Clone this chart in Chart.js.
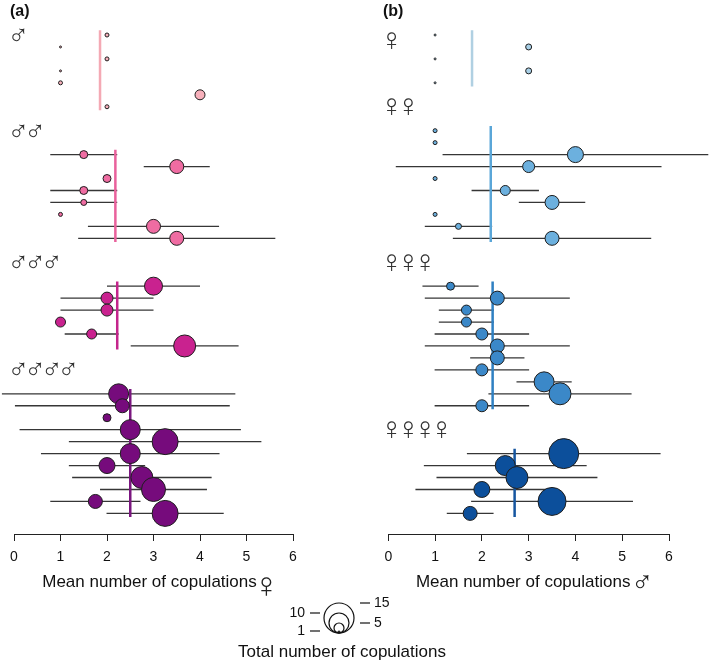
<!DOCTYPE html>
<html><head><meta charset="utf-8">
<script src="https://cdn.jsdelivr.net/npm/chart.js@4"></script>
<style>
html,body{margin:0;padding:0;background:#fff;}
#wrap{position:relative;width:709px;height:663px;}
canvas{position:absolute;left:0;top:0;}
</style></head><body>
<div id="wrap"><canvas id="ca" width="709" height="663"></canvas><canvas id="cb" width="709" height="663"></canvas></div>
<script>
// ---------------- DATA ----------------
const xTickValues = [0, 1, 2, 3, 4, 5, 6];

// Panel (a): mean number of copulations per female, groups by number of males
const aGroupNames = ['♂', '♂♂', '♂♂♂', '♂♂♂♂'];
const aGroupLabelRow = [0, 8, 19, 27.9];
const aGroupMean = [1.85, 2.18, 2.22, 2.5];
const aRows = [[0,1,2,3,4,5,6],[10,11,12,13,14,15,16,17],[21,22,23,24,25,26],[30,31,32,33,34,35,36,37,38,39,40]];
const aMean = [[2,1,2,1,1,4,2],[1.5,3.5,2,1.5,1.5,1,3,3.5],[3,2,2,1,1.67,3.67],[2.25,2.33,2,2.5,3.25,2.5,2,2.75,3,1.75,3.25]];
const aLow = [[null,null,null,null,null,null,null],[0.78,2.79,null,0.78,0.78,null,1.59,1.38],[2,1,1,null,1.09,2.51],[-0.26,0.02,null,0.12,1.18,0.58,1.18,1.25,1.85,0.78,1.99]];
const aHigh = [[null,null,null,null,null,null,null],[2.22,4.21,null,2.22,2.22,null,4.41,5.62],[4,3,3,null,2.25,4.83],[4.76,4.64,null,4.88,5.32,4.42,2.82,4.25,4.15,2.72,4.51]];
const aTotal = [[2,1,2,1,2,5,2],[4,7,4,4,3,2,7,7],[9,6,6,5,5,11],[10,7,4,10,13,10,8,11,12,7,13]];

// Panel (b): mean number of copulations per male, groups by number of females
const bGroupNames = ['♀', '♀♀', '♀♀♀', '♀♀♀♀'];
const bGroupLabelRow = [0.5, 6, 19, 33];
const bGroupMean = [1.79, 2.19, 2.23, 2.7];
const bRows = [[0,1,2,3,4],[8,9,10,11,12,13,14,15,16,17],[21,22,23,24,25,26,27,28,29,30,31],[35,36,37,38,39,40]];
const bMean = [[1,3,1,3,1],[1,1,4,3,1,2.5,3.5,1,1.5,3.5],[1.33,2.33,1.67,1.67,2,2.33,2.33,2,3.33,3.67,2],[3.75,2.5,2.75,2,3.5,1.75]];
const bLow = [[null,null,null,null,null],[null,null,1.16,0.16,null,1.78,2.79,null,0.78,1.38],[0.73,0.78,1.08,1.08,0.99,0.78,1.75,0.99,2.74,2.14,0.99],[1.68,0.76,1.03,0.58,1.77,1.25]];
const bHigh = [[null,null,null,null,null],[null,null,6.84,5.84,null,3.22,4.21,null,2.22,5.62],[1.93,3.88,2.26,2.26,3.01,3.88,2.91,3.01,3.92,5.2,3.01],[5.82,4.24,4.47,3.42,5.23,2.25]];
const bTotal = [[1,3,1,3,1],[2,2,8,6,2,5,7,2,3,7],[4,7,5,5,6,7,7,6,10,11,6],[15,10,11,8,14,7]];

// Size legend
const legendValues = [1, 5, 10, 15];
const legendSides = ['left', 'right', 'left', 'right'];

// ---------------- STYLE ----------------
const RADIUS_PER = 1.0;
const ROW0_PX = 35, ROW_PX = 11.96;
const FONT = '"Liberation Sans", Arial, sans-serif';
const SYMFONT = '"Liberation Sans", "DejaVu Sans", sans-serif';
const SYM_H = {'♂': 13, '♀': 17};
const aFill = ['#f7b0bb', '#ef6ca2', '#c9228f', '#760b7c'];
const aLine = ['#f4a9b4', '#e9619c', '#c4258c', '#7a167f'];
const bFill = ['#a8cfe6', '#6cb0de', '#3b88c8', '#0c4f9b'];
const bLine = ['#b0d0e2', '#5aa6d8', '#2f80c2', '#1656a0'];

function radiusOf(t) { return t * RADIUS_PER; }

// draw a sex symbol scaled to a given ink height; anchor: ink centre (cx) and ink centre or top (y)
function drawSymbol(ctx, ch, cx, y, targetH, anchorTop) {
  ctx.font = '100px ' + SYMFONT;
  let m = ctx.measureText(ch);
  const size = 100 * targetH / (m.actualBoundingBoxAscent + m.actualBoundingBoxDescent);
  ctx.font = size.toFixed(2) + 'px ' + SYMFONT;
  m = ctx.measureText(ch);
  ctx.textAlign = 'left';
  ctx.textBaseline = 'alphabetic';
  const x = cx - (m.actualBoundingBoxRight - m.actualBoundingBoxLeft) / 2;
  const base = anchorTop ? y + m.actualBoundingBoxAscent
                         : y + (m.actualBoundingBoxAscent - m.actualBoundingBoxDescent) / 2;
  ctx.fillText(ch, x, base);
  return m.actualBoundingBoxRight + m.actualBoundingBoxLeft;
}

function makePanel(canvasId, cfg) {
  const datasets = [];
  cfg.rows.forEach((rows, g) => {
    datasets.push({
      type: 'line',
      data: [{x: cfg.groupMean[g], y: rows[0] - 0.4}, {x: cfg.groupMean[g], y: rows[rows.length - 1] + 0.3}],
      borderColor: cfg.lineColors[g], borderWidth: 2.5, pointRadius: 0, order: 2, clip: false
    });
  });
  cfg.rows.forEach((rows, g) => {
    datasets.push({
      type: 'bubble',
      data: rows.map((r, i) => ({x: cfg.mean[g][i], y: r, r: radiusOf(cfg.total[g][i])})),
      backgroundColor: cfg.fillColors[g], borderColor: '#1e1e1e', borderWidth: 1, order: 1, clip: false
    });
  });

  const plugin = {
    id: 'panel' + canvasId,
    beforeDatasetsDraw(chart) {
      const ctx = chart.ctx, xs = chart.scales.x, ys = chart.scales.y;
      ctx.save();
      ctx.strokeStyle = '#363636';
      ctx.lineWidth = 1.3;
      cfg.rows.forEach((rows, g) => rows.forEach((r, i) => {
        const lo = cfg.low[g][i], hi = cfg.high[g][i];
        if (lo == null || hi == null) return;
        const y = ys.getPixelForValue(r);
        ctx.beginPath();
        ctx.moveTo(xs.getPixelForValue(lo), y);
        ctx.lineTo(xs.getPixelForValue(hi), y);
        ctx.stroke();
      }));
      ctx.restore();
    },
    afterDraw(chart) {
      const ctx = chart.ctx, ys = chart.scales.y, xs = chart.scales.x;
      ctx.save();
      ctx.fillStyle = '#333';
      // group labels
      cfg.groupNames.forEach((name, g) => {
        const yc = ys.getPixelForValue(cfg.labelRow[g]);
        [...name].forEach((ch, k) => {
          drawSymbol(ctx, ch, cfg.labelX + k * 16.7, yc, SYM_H[ch], false);
        });
      });
      // axis title (text + enlarged symbol)
      ctx.font = '17px ' + FONT;
      const tw = ctx.measureText(cfg.title).width;
      const symW = cfg.titleSym === '♀' ? 10 : 13;
      const total = tw + 5 + symW;
      const centre = (xs.getPixelForValue(0) + xs.getPixelForValue(6)) / 2 + 3.5;
      const x0 = centre - total / 2;
      ctx.fillStyle = '#111';
      ctx.textAlign = 'left';
      ctx.textBaseline = 'alphabetic';
      ctx.fillText(cfg.title, x0, 587);
      ctx.fillStyle = '#222';
      if (cfg.titleSym === '♀') drawSymbol(ctx, '♀', x0 + tw + 5 + symW / 2, 577, 19, true);
      else drawSymbol(ctx, '♂', x0 + tw + 5 + symW / 2, 575, 13.5, true);
      // panel letter
      ctx.fillStyle = '#111';
      ctx.font = 'bold 16px ' + FONT;
      ctx.textAlign = 'left';
      ctx.textBaseline = 'middle';
      ctx.fillText(cfg.panelLetter, cfg.letterX, 12);
      if (cfg.drawLegend) {
        const cx = 339, by = 633;
        ctx.strokeStyle = '#111';
        ctx.lineWidth = 1.2;
        legendValues.forEach(v => {
          const r = radiusOf(v);
          ctx.beginPath();
          ctx.arc(cx, by - r, r, 0, Math.PI * 2);
          ctx.stroke();
        });
        ctx.font = '14px ' + FONT;
        ctx.textBaseline = 'middle';
        legendValues.forEach((v, i) => {
          const y = by - 2 * radiusOf(v);
          ctx.beginPath();
          if (legendSides[i] === 'right') {
            ctx.moveTo(cx + 21, y); ctx.lineTo(cx + 31, y); ctx.stroke();
            ctx.textAlign = 'left';
            ctx.fillText(String(v), cx + 35, y);
          } else {
            ctx.moveTo(cx - 29, y); ctx.lineTo(cx - 19, y); ctx.stroke();
            ctx.textAlign = 'right';
            ctx.fillText(String(v), cx - 34, y);
          }
        });
        ctx.font = '17px ' + FONT;
        ctx.textAlign = 'center';
        ctx.fillText('Total number of copulations', 342, 652);
      }
      ctx.restore();
    }
  };

  const chart = new Chart(document.getElementById(canvasId), {
    type: 'bubble',
    data: {datasets},
    options: {
      responsive: false, animation: false, events: [],
      devicePixelRatio: 1,
      layout: {padding: {left: cfg.padLeft, right: cfg.padRight, top: 0, bottom: 663 - 534 - 62}},
      plugins: {legend: {display: false}, tooltip: {enabled: false}},
      scales: {
        x: {
          type: 'linear', min: 0, max: 6,
          afterBuildTicks: s => { s.ticks = xTickValues.map(v => ({value: v})); },
          afterFit: s => { s.height = 62; },
          grid: {drawOnChartArea: false, drawTicks: true, tickLength: 7, tickColor: '#222', tickWidth: 1},
          border: {display: true, color: '#222', width: 1},
          ticks: {padding: 8, color: '#111', font: {family: FONT, size: 14}, maxRotation: 0, autoSkip: false},
          title: {display: false}
        },
        y: {type: 'linear', display: false, reverse: true, min: -2.926, max: 41.72}
      }
    },
    plugins: [plugin]
  });
  // fit row spacing to the real chart area
  const ca = chart.chartArea;
  const ymin = -(ROW0_PX - ca.top) / ROW_PX;
  chart.options.scales.y.min = ymin;
  chart.options.scales.y.max = ymin + (ca.bottom - ca.top) / ROW_PX;
  chart.update();
  return chart;
}

makePanel('ca', {
  rows: aRows, mean: aMean, low: aLow, high: aHigh, total: aTotal,
  groupMean: aGroupMean, groupNames: aGroupNames, labelRow: aGroupLabelRow,
  fillColors: aFill, lineColors: aLine, labelX: 18, panelLetter: '(a)', letterX: 10,
  padLeft: 12.3, padRight: 709 - 293, title: 'Mean number of copulations', titleSym: '♀', drawLegend: true
});
makePanel('cb', {
  rows: bRows, mean: bMean, low: bLow, high: bHigh, total: bTotal,
  groupMean: bGroupMean, groupNames: bGroupNames, labelRow: bGroupLabelRow,
  fillColors: bFill, lineColors: bLine, labelX: 392, panelLetter: '(b)', letterX: 383,
  padLeft: 388.3, padRight: 709 - 669, title: 'Mean number of copulations', titleSym: '♂', drawLegend: false
});
</script>
</body></html>
